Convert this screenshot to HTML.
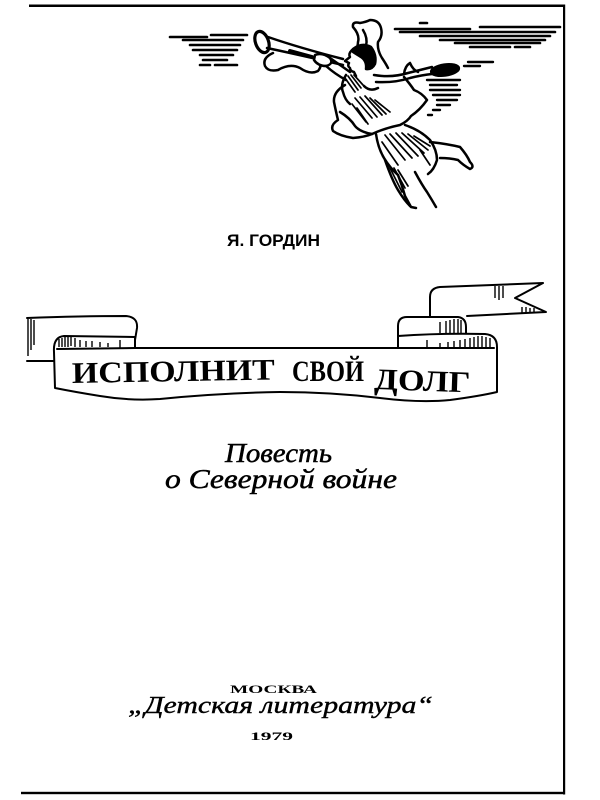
<!DOCTYPE html>
<html><head><meta charset="utf-8"><style>
html,body{margin:0;padding:0;background:#fff;width:600px;height:800px;overflow:hidden}
svg{display:block}
</style></head><body>
<svg width="600" height="800" viewBox="0 0 600 800" xmlns="http://www.w3.org/2000/svg">
<rect width="600" height="800" fill="#fff"/>
<!-- frame -->
<rect x="29" y="4.5" width="536" height="2.5" fill="#000"/>
<rect x="563" y="4.5" width="2.2" height="790" fill="#000"/>
<rect x="21" y="791.8" width="544" height="2.4" fill="#000"/>

<!-- clouds -->
<g stroke="#000" stroke-linecap="round" fill="none">
<path stroke-width="2.6" d="M170,37H207 M211,35H247 M183,40H243 M190,45H240 M193,50H237 M200,55H233 M203,60H227 M200,65H210 M215,65H237"/>
<path stroke-width="2.6" d="M420,23H427 M395,29H470 M480,27H560 M400,32H555 M420,36H550 M440,40H545 M455,43H540 M470,47H510 M515,47H530"/>
<path stroke-width="2.4" d="M468,62H493 M464,66H480 M427,80H460 M430,85H457 M430,90H460 M433,95H460 M437,100H457 M437,105H450 M433,110H440 M428,115H432"/>
</g>

<!-- angel -->
<g stroke="#000" stroke-width="2.5" fill="none" stroke-linejoin="round" stroke-linecap="round">
<ellipse cx="262" cy="42" rx="6.5" ry="11" transform="rotate(-20 262 42)" stroke-width="3.2"/>
<path d="M268,37 Q300,48 343,59 M267,48 Q300,55 343,65"/>
<path d="M290,51 L312,57" stroke-width="4"/>
<path d="M273,53 Q262,58 265,66 Q268,72 278,70 Q290,63 300,68 Q310,75 318,71 Q323,65 318,60"/>
<path d="M315,55 Q322,52 330,58 Q334,64 326,66 Q318,66 314,60 Z" fill="#fff"/>
<path d="M330,58 Q340,65 350,72 M326,66 Q335,74 346,80"/>
<path d="M355,53 Q358,46 358,42 Q360,35 353,27 Q352,21 360,23 Q366,22 370,20 Q379,20 381,28 Q383,36 378,42 Q377,50 382,58 Q386,64 388,68"/>
<path d="M363,30 Q368,38 366,46"/>
<path d="M352,50 Q348,54 350,57 L345,61 L349,63 Q347,66 350,68 Q350,71 354,72 L356,76"/>
<path d="M353,49 Q362,42 371,47 Q377,55 375,64 Q372,70 366,69 Q367,61 361,57 Q356,54 353,52 Z" fill="#000"/>
<path d="M374,75 Q392,78 408,73 Q420,70 432,67 M376,82 Q395,83 410,78 Q422,75 432,74"/>
<path d="M404,74 Q405,66 410,63 Q413,70 418,72"/>
<ellipse cx="445" cy="70" rx="14" ry="5.5" fill="#000" transform="rotate(-8 445 70)"/>
<path d="M346,75 Q340,85 343,92 Q345,100 350,104"/>
<path d="M364,86 Q370,92 378,88"/>
<path d="M345,85 Q333,92 334,102 Q336,112 338,120 Q330,125 333,131 Q340,136 353,138 Q365,137 372,134 Q385,128 400,125 Q408,121 411,116 Q420,110 427,100 Q422,93 414,90 Q410,84 404,77"/>
<path d="M340,112 Q350,118 355,126 Q360,132 372,134"/>
<path d="M376,134 Q378,148 384,158 Q390,168 398,175 Q402,185 405,196 L411,207 L416,208"/>
<path d="M405,125 Q420,130 430,140 Q437,150 437,160 Q434,170 428,174"/>
<path d="M430,142 Q448,144 460,147 Q467,155 470,162 Q475,167 470,169 Q463,165 458,160 Q450,158 440,158"/>
<path d="M385,160 Q392,180 398,190 Q404,200 410,206 M415,172 Q422,185 427,192 Q432,200 436,207"/>
<path stroke-width="1.7" d="M345,78 L355,92 M348,76 L358,90 M351,75 L361,88 M354,75 L363,85
M355,98 L372,118 M360,97 L377,117 M365,96 L382,115 M370,98 L386,114 M375,100 L390,112 M352,104 L366,122 M357,108 L368,124
M385,135 L405,160 M390,134 L412,158 M396,133 L418,156 M402,133 L424,153 M408,134 L428,150 M414,136 L430,146 M382,142 L398,165 M420,150 L430,165
M390,168 L402,192 M394,168 L405,188 M398,170 L408,186"/>
</g>

<!-- author -->
<text x="227" y="246" font-family="Liberation Sans, sans-serif" font-weight="bold" font-size="17" textLength="93" lengthAdjust="spacingAndGlyphs">Я. ГОРДИН</text>

<!-- banner -->
<g stroke="#000" stroke-width="2" fill="#fff" stroke-linejoin="round" stroke-linecap="round">
<path d="M467,316 L546,312 L515,298 L543,283 L440,287 Q430,288 430,297 L430,318"/>
<path d="M398,350 L398,326 Q398,317 407,317 L458,317 Q466,318 466,327 L466,345"/>
<path d="M27,318 Q80,316 126,316 Q138,317 137,328 L135,340" fill="none"/>
<path d="M27,361 L54,361" fill="none"/>
<path d="M55,388 L54,352 Q53,337 64,336 L135,337 L135,348 L398,348 L398,336 Q440,333 485,334 Q497,335 497,347 L497,392 Q480,396 450,400 Q420,403 380,398 Q330,392 280,392 Q220,393 160,399 Q130,401 100,396 Q75,392 55,388 Z"/>
<path d="M57,349 L135,348 M398,348 L494,348" fill="none"/>
</g>
<g stroke="#000" stroke-width="1.4" fill="none">
<path d="M28,319V356 M31,319V350 M34,320V345"/>
<path d="M59,339V347 M62,338V347 M65,337V347 M68,337V347 M71,337V346 M75,338V347 M80,340V347 M86,341V347 M92,341V347 M100,342V347 M108,343V347 M120,340V348"/>
<path d="M427,340V348 M440,343V348 M448,342V348 M454,341V348 M460,340V348 M465,339V348 M470,338V348 M474,337V348 M478,336V348 M482,336V348 M486,337V348 M490,338V348"/>
<path d="M440,322V333 M446,321V333 M450,320V333 M454,319V333 M458,319V333 M461,320V333"/>
<path d="M495,286V298 M499,286V300 M503,286V298 M522,307V313 M526,307V313 M530,308V313 M534,308V313"/>
</g>
<g font-family="Liberation Serif, serif" font-weight="bold" font-size="30" fill="#000">
<text x="72" y="383" textLength="203" lengthAdjust="spacingAndGlyphs" transform="rotate(-1 72 383)">ИСПОЛНИТ</text>
<text x="292" y="381" textLength="72" lengthAdjust="spacingAndGlyphs">СВОЙ</text>
<text x="374" y="389" textLength="96" lengthAdjust="spacingAndGlyphs" transform="rotate(2 374 389)">ДОЛГ</text>
</g>

<!-- subtitle -->
<g font-family="Liberation Serif, serif" font-style="italic" font-size="27" fill="#000" stroke="#000" stroke-width="0.5">
<text x="225" y="462" textLength="107" lengthAdjust="spacingAndGlyphs">Повесть</text>
<text x="165" y="488" textLength="232" lengthAdjust="spacingAndGlyphs">о Северной войне</text>
</g>

<!-- publisher -->
<text x="230" y="693" font-family="Liberation Serif, serif" font-weight="bold" font-size="12" textLength="87" lengthAdjust="spacingAndGlyphs">МОСКВА</text>
<text x="128" y="713" font-family="Liberation Serif, serif" font-style="italic" font-size="24" stroke="#000" stroke-width="0.4" textLength="305" lengthAdjust="spacingAndGlyphs">„Детская литература“</text>
<text x="250" y="740" font-family="Liberation Serif, serif" font-weight="bold" font-size="12" textLength="43" lengthAdjust="spacingAndGlyphs">1979</text>
</svg>
</body></html>
